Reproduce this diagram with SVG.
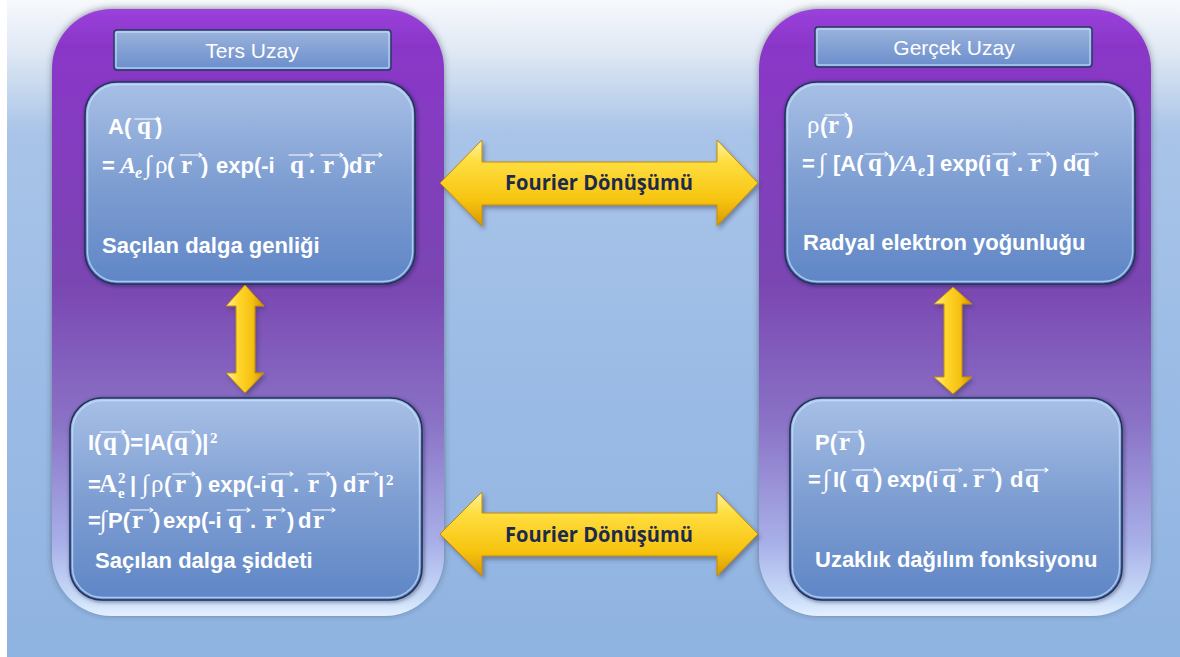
<svg xmlns="http://www.w3.org/2000/svg" width="1180" height="657" viewBox="0 0 1180 657">
<defs>
<linearGradient id="bg" x1="0" y1="0" x2="0" y2="1">
<stop offset="0" stop-color="#f7f9fc"/>
<stop offset="0.08" stop-color="#dfe8f4"/>
<stop offset="0.2" stop-color="#a9c4e8"/>
<stop offset="0.55" stop-color="#9cbce6"/>
<stop offset="1" stop-color="#8fb3e0"/>
</linearGradient>
<linearGradient id="panel" x1="0" y1="0" x2="0" y2="1">
<stop offset="0" stop-color="#9a40dc"/>
<stop offset="0.06" stop-color="#8a36c8"/>
<stop offset="0.45" stop-color="#7a46b2"/>
<stop offset="0.68" stop-color="#8a72c6"/>
<stop offset="0.88" stop-color="#a8b0e8"/>
<stop offset="0.97" stop-color="#c8dcf8"/>
<stop offset="1" stop-color="#e4f0ff"/>
</linearGradient>
<linearGradient id="box" x1="0" y1="0" x2="0" y2="1">
<stop offset="0" stop-color="#a8c0e6"/>
<stop offset="0.5" stop-color="#7e9ed2"/>
<stop offset="1" stop-color="#5f86c6"/>
</linearGradient>
<linearGradient id="bar" x1="0" y1="0" x2="0" y2="1">
<stop offset="0" stop-color="#9cb4dc"/>
<stop offset="1" stop-color="#6a8dcc"/>
</linearGradient>
<linearGradient id="yh" x1="0" y1="0" x2="0" y2="1">
<stop offset="0" stop-color="#fff2a0"/>
<stop offset="0.25" stop-color="#ffde40"/>
<stop offset="0.7" stop-color="#f7c410"/>
<stop offset="1" stop-color="#d89800"/>
</linearGradient>
<linearGradient id="yv" x1="0" y1="0" x2="1" y2="0">
<stop offset="0" stop-color="#fff0a0"/>
<stop offset="0.3" stop-color="#ffd830"/>
<stop offset="0.7" stop-color="#f5c010"/>
<stop offset="1" stop-color="#d09000"/>
</linearGradient>
<filter id="psh" x="-10%" y="-10%" width="120%" height="120%">
<feDropShadow dx="0" dy="-1" stdDeviation="3" flood-color="#303040" flood-opacity="0.5"/>
</filter>
<filter id="bsh" x="-10%" y="-10%" width="120%" height="120%">
<feDropShadow dx="1" dy="1" stdDeviation="2" flood-color="#101830" flood-opacity="0.5"/>
</filter>
<filter id="ash" x="-10%" y="-20%" width="120%" height="140%">
<feDropShadow dx="2" dy="3" stdDeviation="2" flood-color="#303050" flood-opacity="0.45"/>
</filter>
<style>
.panel{fill:url(#panel);filter:url(#psh)}
.box{fill:url(#box);stroke:#22325a;stroke-width:1.6;filter:url(#bsh)}
.hl{fill:none;stroke:#c4e0ff;stroke-width:1.4;opacity:0.75}
.bar{fill:url(#bar);stroke:#26385f;stroke-width:1.4}
.ttl{font-family:"Liberation Sans",Arial,sans-serif;font-size:21px;fill:#ffffff;text-anchor:middle}
.t{font-family:"Liberation Sans",Arial,sans-serif;font-weight:bold;font-size:22px;fill:#ffffff}
.m{font-family:"Liberation Serif","Times New Roman",serif;font-weight:bold;font-size:25px}
.mn{font-family:"Liberation Serif","Times New Roman",serif;font-weight:normal;font-size:25px}
.mi{font-family:"Liberation Serif","Times New Roman",serif;font-weight:bold;font-style:italic;font-size:24px}
.sb{font-family:"Liberation Serif","Times New Roman",serif;font-weight:bold;font-size:15px}
.sbi{font-family:"Liberation Serif","Times New Roman",serif;font-weight:bold;font-style:italic;font-size:16px}
.vec{fill:none;stroke:#ffffff;stroke-width:1.1;stroke-linecap:round;stroke-linejoin:round}
.ah{fill:url(#yh);stroke:#c08c00;stroke-width:1;filter:url(#ash)}
.av{fill:url(#yv);stroke:#c08c00;stroke-width:1;filter:url(#ash)}
.ft{font-family:"Open Sans","Liberation Sans",sans-serif;font-weight:bold;font-size:21px;fill:#1c2a4c;text-anchor:middle}
</style>
</defs>

<rect x="0" y="0" width="1180" height="657" fill="#ffffff"/>
<rect x="7" y="0" width="1173" height="657" fill="url(#bg)"/>

<g id="panel-ters-uzay">
<rect class="panel" x="52" y="9" width="392" height="607" rx="60"/>
<rect class="bar" x="114" y="30" width="277" height="40" rx="3"/>
<rect class="hl" x="116" y="32" width="273" height="36" rx="2"/>
<text class="ttl" x="252" y="58">Ters Uzay</text>
</g>

<g id="panel-gercek-uzay">
<rect class="panel" x="759" y="9" width="392" height="607" rx="60"/>
<rect class="bar" x="815" y="27" width="277" height="40" rx="3"/>
<rect class="hl" x="817" y="29" width="273" height="36" rx="2"/>
<text class="ttl" x="954" y="55">Gerçek Uzay</text>
</g>

<g id="node-genlik">
<rect class="box" x="85" y="82" width="330" height="202" rx="32"/>
<rect class="hl" x="87.5" y="84.5" width="325" height="197" rx="30"/>
<text class="t" y="134"><tspan x="108">A(</tspan><tspan class="m" x="137">q</tspan><tspan x="155">)</tspan></text>
<text class="t" y="173"><tspan x="102">=</tspan><tspan class="mi" x="120">A</tspan><tspan class="sbi" x="135" y="178">e</tspan><tspan class="mn" x="145" y="173">∫</tspan><tspan class="mn" x="155">ρ</tspan><tspan x="167">(</tspan><tspan class="m" x="181">r</tspan><tspan x="201">)</tspan><tspan x="216">exp(-i</tspan><tspan class="m" x="290">q</tspan><tspan x="309">.</tspan><tspan class="m" x="323">r</tspan><tspan x="342">)</tspan><tspan x="349">d</tspan><tspan class="m" x="364">r</tspan></text>
<text class="t" x="102" y="253">Saçılan dalga genliği</text>
<path class="vec" d="M135,119H160M157,117L160,119L157,121 M180,155H202M199,153L202,155L199,157 M289,155H313M310,153L313,155L310,157 M321,155H343M340,153L343,155L340,157 M362,155H382M379,153L382,155L379,157"/>
</g>

<g id="node-yogunluk">
<rect class="box" x="785" y="82" width="350" height="202" rx="32"/>
<rect class="hl" x="787.5" y="84.5" width="345" height="197" rx="30"/>
<text class="t" y="133"><tspan class="mn" x="807">ρ</tspan><tspan x="820">(</tspan><tspan class="m" x="828">r</tspan><tspan x="846">)</tspan></text>
<text class="t" y="171"><tspan x="802">=</tspan><tspan class="mn" x="819">∫</tspan><tspan x="833">[A(</tspan><tspan class="m" x="868">q</tspan><tspan x="888">)</tspan><tspan class="mi" x="895">/A</tspan><tspan class="sbi" x="918" y="176">e</tspan><tspan x="927" y="171">]</tspan><tspan x="940">exp(i</tspan><tspan class="m" x="995">q</tspan><tspan x="1017">.</tspan><tspan class="m" x="1030">r</tspan><tspan x="1050">)</tspan><tspan x="1063">d</tspan><tspan class="m" x="1076">q</tspan></text>
<text class="t" x="803" y="250">Radyal elektron yoğunluğu</text>
<path class="vec" d="M825,115H848M845,113L848,115L845,117 M865,154H888M885,152L888,154L885,156 M993,154H1016M1013,152L1016,154L1013,156 M1028,154H1050M1047,152L1050,154L1047,156 M1075,154H1098M1095,152L1098,154L1095,156"/>
</g>

<g id="node-siddet">
<rect class="box" x="70" y="398" width="352" height="202" rx="32"/>
<rect class="hl" x="72.5" y="400.5" width="347" height="197" rx="30"/>
<text class="t" y="450"><tspan x="88">I(</tspan><tspan class="m" x="103">q</tspan><tspan x="123">)=</tspan><tspan x="144">|A(</tspan><tspan class="m" x="174">q</tspan><tspan x="195">)|</tspan><tspan class="sb" x="210" y="443">2</tspan></text>
<text class="t" y="492"><tspan x="88">=</tspan><tspan class="m" x="99">A</tspan><tspan class="sb" x="118" y="498">e</tspan><tspan class="sb" x="118" y="483">2</tspan><tspan x="130" y="492">|</tspan><tspan class="mn" x="142">∫</tspan><tspan class="mn" x="151">ρ</tspan><tspan x="164">(</tspan><tspan class="m" x="175">r</tspan><tspan x="195">)</tspan><tspan x="208">exp(-i</tspan><tspan class="m" x="270">q</tspan><tspan x="293">.</tspan><tspan class="m" x="308">r</tspan><tspan x="330">)</tspan><tspan x="343">d</tspan><tspan class="m" x="358">r</tspan><tspan x="378">|</tspan><tspan class="sb" x="386" y="485">2</tspan></text>
<text class="t" y="528"><tspan x="88">=</tspan><tspan class="mn" x="100">∫</tspan><tspan x="108">P(</tspan><tspan class="m" x="132">r</tspan><tspan x="153">)</tspan><tspan x="163">exp(-i</tspan><tspan class="m" x="228">q</tspan><tspan x="250">.</tspan><tspan class="m" x="265">r</tspan><tspan x="287">)</tspan><tspan x="298">d</tspan><tspan class="m" x="313">r</tspan></text>
<text class="t" x="95" y="568">Saçılan dalga şiddeti</text>
<path class="vec" d="M100,432H125M122,430L125,432L122,434 M172,432H195M192,430L195,432L192,434 M173,474H195M192,472L195,474L192,476 M268,474H293M290,472L293,474L290,476 M308,474H330M327,472L330,474L327,476 M357,474H378M375,472L378,474L375,476 M130,510H153M150,508L153,510L150,512 M227,510H250M247,508L250,510L247,512 M263,510H285M282,508L285,510L282,512 M312,510H335M332,508L335,510L332,512"/>
</g>

<g id="node-dagilim">
<rect class="box" x="790" y="398" width="332" height="202" rx="32"/>
<rect class="hl" x="792.5" y="400.5" width="327" height="197" rx="30"/>
<text class="t" y="450"><tspan x="815">P(</tspan><tspan class="m" x="839">r</tspan><tspan x="858">)</tspan></text>
<text class="t" y="487"><tspan x="808">=</tspan><tspan class="mn" x="823">∫</tspan><tspan x="833">I(</tspan><tspan class="m" x="855">q</tspan><tspan x="875">)</tspan><tspan x="887">exp(i</tspan><tspan class="m" x="942">q</tspan><tspan x="962">.</tspan><tspan class="m" x="973">r</tspan><tspan x="995">)</tspan><tspan x="1010">d</tspan><tspan class="m" x="1025">q</tspan></text>
<text class="t" x="815" y="567">Uzaklık dağılım fonksiyonu</text>
<path class="vec" d="M838,432H862M859,430L862,432L859,434 M852,470H877M874,468L877,470L874,472 M940,470H962M959,468L962,470L959,472 M973,470H995M992,468L995,470L992,472 M1025,470H1048M1045,468L1048,470L1045,472"/>
</g>

<g id="connectors">
<polygon class="ah" points="440,183 482,140 482,162 717,162 717,140 758,183 717,226 717,205 482,205 482,226"/>
<text class="ft" x="599" y="190" textLength="188" lengthAdjust="spacingAndGlyphs">Fourier Dönüşümü</text>
<polygon class="ah" points="440,534 482,492 482,513 717,513 717,492 758,534 717,576 717,556 482,556 482,576"/>
<text class="ft" x="599" y="542" textLength="188" lengthAdjust="spacingAndGlyphs">Fourier Dönüşümü</text>
<polygon class="av" points="245,285 264,306 255,306 255,373 264,373 245,393 226,373 236,373 236,306 226,306"/>
<polygon class="av" points="953,287 972,304 962,304 962,377 972,377 953,394 934,377 944,377 944,304 934,304"/>
</g>
</svg>
